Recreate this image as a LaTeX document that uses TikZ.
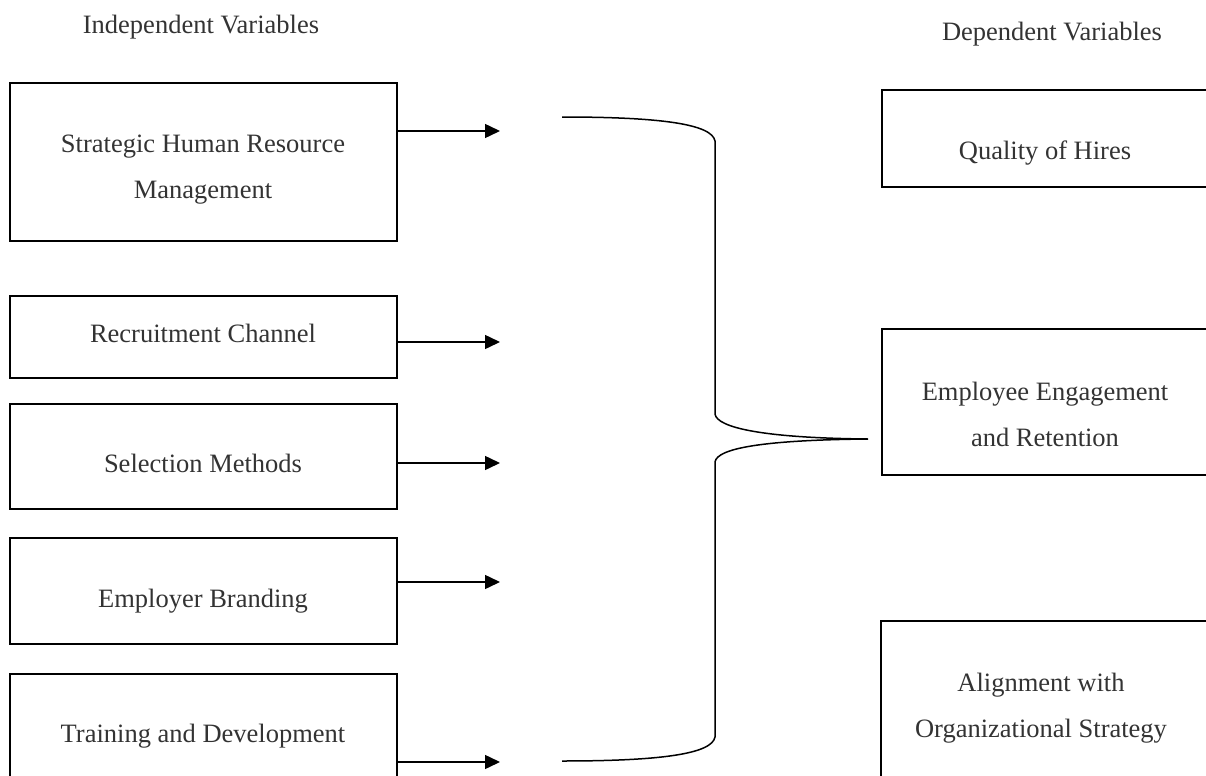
\documentclass[tikz,border=0pt]{standalone}
\usepackage{fontspec}
\setmainfont{Liberation Serif}
\usetikzlibrary{arrows.meta,fit,positioning}
\tikzset{>={Triangle[length=7.5pt,width=7pt]}}
\colorlet{penColor}{black}
\colorlet{textColor}{black!80}
\tikzset{
  varbox/.style={draw=penColor, line width=1pt, inner sep=0pt},
  vartext/.style={textColor, align=center, font=\fontsize{13.25}{23}\selectfont},
  link/.style={->, penColor, line width=0.75pt},
  bracket/.style={penColor, line width=0.75pt}
}

\begin{document}
\begin{tikzpicture}[x=0.5pt,y=-0.5pt]
  \useasboundingbox (0,0) rectangle (1206,776);
  \clip (0,0) rectangle (1206,776);
  % headings
  \node[vartext] (indep) at (201,27) {Independent Variables};
  \node[vartext] (dep) at (1052,34) {Dependent Variables};
  % independent variables
  \node[varbox, fit={(10,83) (397,241)}] (shrm) {};
  \node[varbox, fit={(10,296) (397,378)}] (chan) {};
  \node[varbox, fit={(10,404) (397,509)}] (sel) {};
  \node[varbox, fit={(10,538) (397,644)}] (brand) {};
  \node[varbox, fit={(10,674) (397,800)}] (train) {};
  \node[vartext] (shrmTxt) at (203,170) {Strategic Human Resource\\Management};
  \node[vartext] (chanTxt) at (203,333) {Recruitment Channel};
  \node[vartext] (selTxt) at (203,463) {Selection Methods};
  \node[vartext] (brandTxt) at (203,601) {Employer Branding};
  \node[vartext] (trainTxt) at (203,736) {Training and Development};
  % dependent variables
  \node[varbox, fit={(882,90) (1210,187)}] (qual) {};
  \node[varbox, fit={(882,329) (1210,475)}] (eng) {};
  \node[varbox, fit={(881,621) (1210,800)}] (align) {};
  \node[vartext] (qualTxt) at (1045,153) {Quality of Hires};
  \node[vartext] (engTxt) at (1045,414) {Employee Engagement\\and Retention};
  \node[vartext] (alignTxt) at (1041,708) {Alignment with\\Organizational Strategy};
  % arrows
  \coordinate (a1) at (500,131);
  \coordinate (a2) at (500,342);
  \coordinate (a3) at (500,463);
  \coordinate (a4) at (500,582);
  \coordinate (a5) at (500,762);
  \draw[link] (shrm.east |- a1) -- (a1);
  \draw[link] (chan.east |- a2) -- (a2);
  \draw[link] (sel.east |- a3) -- (a3);
  \draw[link] (brand.east |- a4) -- (a4);
  \draw[link] (train.east |- a5) -- (a5);
  % brace
  \coordinate (bTop) at (562,117);
  \coordinate (bTip) at (868,439);
  \coordinate (bBot) at (562,761);
  \draw[bracket] (bTop) .. controls (660,117) and (712,124) .. (715,141)
     -- (715,414) .. controls (717,428) and (765,438) .. (bTip)
     .. controls (765,440) and (717,448) .. (715,462)
     -- (715,737) .. controls (712,754) and (660,761) .. (bBot);
\end{tikzpicture}
\end{document}
